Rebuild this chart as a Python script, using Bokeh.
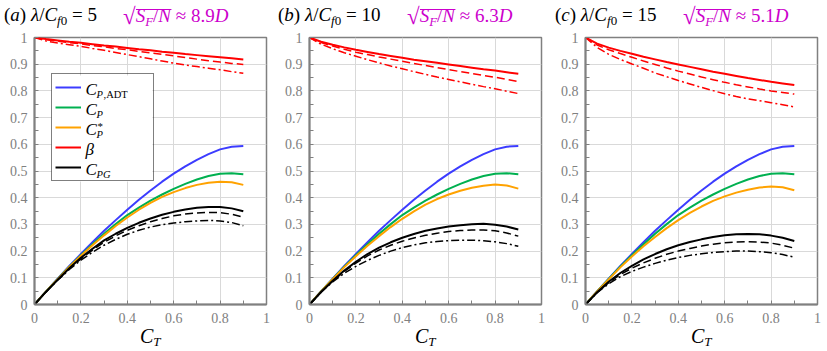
from bokeh.plotting import figure
from bokeh.layouts import row, column
from bokeh.models import Label, Legend, LegendItem, FixedTicker, Div, BoxAnnotation
from bokeh.embed import file_html
from bokeh.resources import INLINE

# ---------------- data ----------------
CT = [0.0, 0.05, 0.1, 0.15, 0.2, 0.25, 0.3, 0.35, 0.4, 0.45, 0.5,
      0.55, 0.6, 0.65, 0.7, 0.75, 0.8, 0.85, 0.9]

CP_ADT = [0, 0.049, 0.097, 0.144, 0.189, 0.233, 0.276, 0.316, 0.355, 0.392, 0.427,
          0.460, 0.490, 0.517, 0.542, 0.563, 0.581, 0.591, 0.594]
CP = [0, 0.049, 0.096, 0.142, 0.185, 0.226, 0.265, 0.301, 0.335, 0.363, 0.389,
      0.412, 0.433, 0.452, 0.468, 0.481, 0.490, 0.492, 0.488]

CPS_A = [0, 0.049, 0.095, 0.141, 0.183, 0.222, 0.259, 0.294, 0.326, 0.355, 0.381,
         0.403, 0.421, 0.436, 0.448, 0.456, 0.460, 0.458, 0.448]
CPS_B = [0, 0.049, 0.095, 0.140, 0.181, 0.220, 0.256, 0.290, 0.321, 0.349, 0.374,
         0.395, 0.412, 0.426, 0.437, 0.445, 0.449, 0.446, 0.434]
CPS_C = [0, 0.049, 0.094, 0.139, 0.180, 0.218, 0.253, 0.286, 0.316, 0.343, 0.367,
         0.388, 0.405, 0.419, 0.430, 0.438, 0.442, 0.439, 0.428]

BETA_A = [1, 0.994, 0.989, 0.984, 0.980, 0.975, 0.970, 0.966, 0.961, 0.956, 0.952,
          0.947, 0.943, 0.938, 0.934, 0.930, 0.926, 0.922, 0.918]
BETA_A_DASH = [1, 0.992, 0.986, 0.981, 0.976, 0.970, 0.965, 0.959, 0.954, 0.948, 0.942,
               0.937, 0.931, 0.925, 0.919, 0.913, 0.908, 0.903, 0.899]
BETA_A_DOT = [1, 0.987, 0.979, 0.973, 0.967, 0.959, 0.952, 0.944, 0.936, 0.928, 0.920,
              0.912, 0.904, 0.897, 0.891, 0.885, 0.879, 0.872, 0.866]
BETA_B = [1, 0.984, 0.973, 0.963, 0.954, 0.946, 0.938, 0.931, 0.924, 0.917, 0.911,
          0.905, 0.899, 0.893, 0.887, 0.881, 0.876, 0.870, 0.864]
BETA_B_DASH = [1, 0.981, 0.968, 0.956, 0.945, 0.936, 0.927, 0.919, 0.911, 0.903, 0.895,
               0.887, 0.880, 0.872, 0.865, 0.858, 0.851, 0.843, 0.835]
BETA_B_DOT = [1, 0.975, 0.958, 0.943, 0.930, 0.917, 0.905, 0.893, 0.883, 0.872, 0.862,
              0.852, 0.843, 0.834, 0.825, 0.816, 0.808, 0.799, 0.790]
BETA_C = [1, 0.977, 0.962, 0.950, 0.939, 0.928, 0.918, 0.908, 0.899, 0.890, 0.881,
          0.872, 0.864, 0.856, 0.848, 0.841, 0.834, 0.828, 0.822]
BETA_C_DASH = [1, 0.972, 0.954, 0.940, 0.926, 0.912, 0.899, 0.886, 0.874, 0.863, 0.852,
               0.842, 0.832, 0.823, 0.815, 0.807, 0.800, 0.794, 0.788]
BETA_C_DOT = [1, 0.963, 0.937, 0.918, 0.901, 0.885, 0.867, 0.853, 0.839, 0.826, 0.813,
              0.801, 0.789, 0.779, 0.770, 0.763, 0.756, 0.748, 0.740]

CPG_A = [0, 0.048, 0.093, 0.136, 0.175, 0.209, 0.240, 0.265, 0.287, 0.306, 0.322,
         0.336, 0.347, 0.356, 0.362, 0.365, 0.365, 0.360, 0.349]
CPG_A_DASH = [0, 0.048, 0.092, 0.134, 0.171, 0.204, 0.233, 0.257, 0.278, 0.295, 0.310,
              0.322, 0.332, 0.339, 0.343, 0.345, 0.344, 0.338, 0.327]
CPG_A_DOT = [0, 0.048, 0.091, 0.131, 0.166, 0.196, 0.222, 0.244, 0.263, 0.278, 0.290,
             0.299, 0.305, 0.310, 0.313, 0.315, 0.313, 0.307, 0.295]
CPG_B = [0, 0.047, 0.089, 0.127, 0.160, 0.189, 0.213, 0.233, 0.250, 0.264, 0.276,
         0.285, 0.292, 0.297, 0.301, 0.302, 0.299, 0.292, 0.281]
CPG_B_DASH = [0, 0.047, 0.088, 0.124, 0.155, 0.182, 0.204, 0.222, 0.237, 0.249, 0.259,
              0.267, 0.273, 0.277, 0.279, 0.279, 0.276, 0.268, 0.256]
CPG_B_DOT = [0, 0.046, 0.085, 0.117, 0.143, 0.165, 0.184, 0.200, 0.213, 0.223, 0.231,
             0.236, 0.239, 0.241, 0.241, 0.239, 0.235, 0.228, 0.218]
CPG_C = [0, 0.046, 0.085, 0.118, 0.145, 0.169, 0.189, 0.207, 0.222, 0.234, 0.244,
         0.253, 0.259, 0.263, 0.264, 0.263, 0.258, 0.250, 0.238]
CPG_C_DASH = [0, 0.045, 0.082, 0.112, 0.136, 0.156, 0.173, 0.188, 0.200, 0.210, 0.219,
              0.226, 0.231, 0.234, 0.235, 0.234, 0.230, 0.222, 0.211]
CPG_C_DOT = [0, 0.044, 0.078, 0.104, 0.124, 0.140, 0.154, 0.166, 0.176, 0.184, 0.190,
             0.195, 0.198, 0.200, 0.200, 0.198, 0.194, 0.187, 0.177]

PANEL_LETTERS = ["a", "b", "c"]
LAMBDA_RATIOS = ["5", "10", "15"]
SPACINGS = ["8.9", "6.3", "5.1"]

# legend entries: (main symbol, italic subscript, upright subscript, superscript)
LEGEND_ENTRIES = [("C", "P", ",ADT", ""), ("C", "P", "", ""), ("C", "P", "", "*"),
                  ("β", "", "", ""), ("C", "PG", "", "")]

X_TICKS = [0, 0.2, 0.4, 0.6, 0.8, 1]
X_TICK_LABELS = ["0", "0.2", "0.4", "0.6", "0.8", "1"]
X_MINOR = [0.1, 0.3, 0.5, 0.7, 0.9]
Y_TICKS = [0, 0.1, 0.2, 0.3, 0.4, 0.5, 0.6, 0.7, 0.8, 0.9, 1]
Y_TICK_LABELS = ["0", "0.1", "0.2", "0.3", "0.4", "0.5", "0.6", "0.7", "0.8", "0.9", "1"]
Y_MINOR = [0.05, 0.15, 0.25, 0.35, 0.45, 0.55, 0.65, 0.75, 0.85, 0.95]

# ---------------- style ----------------
BLUE = "#3c3cff"
GREEN = "#00b050"
ORANGE = "#ffa200"
RED = "#ff0000"
BLACK = "#000000"
MAGENTA = "#cc00cc"
AXIS_GRAY = "#808080"
TICK_TEXT = "#808080"
GRID = "#d9d9d9"
SERIF = "'Liberation Serif', 'DejaVu Serif', serif"
DASH = "8 4"
DASHDOT = "8 3 2 3"

FW, FH = 232, 267
BORDERS = [(34, 9), (34, 9), (35, 10)]      # (left, right) per panel
TITLE_X = [(4, 123), (278, 407), (555, 683)]  # black part, magenta part
CT_X = [140, 415, 691]

# legend geometry (px, from the frame's lower-left corner)
LEG_X, LEG_Y = 17, 123
LEG_PAD, LEG_ROW, LEG_GLYPH, LEG_STANDOFF, LEG_LABEL_W = 3, 20, 26, 5, 64
LEG_W = 2 * LEG_PAD + LEG_GLYPH + LEG_STANDOFF + LEG_LABEL_W
LEG_H = 2 * LEG_PAD + 5 * LEG_ROW


def put(p, text, dx, dy, size, style="normal"):
    p.add_layout(Label(x=0, y=0, x_offset=dx, y_offset=dy, text=text,
                       text_font=SERIF, text_font_size=f"{size}px",
                       text_font_style=style, text_color=BLACK,
                       text_align="left", text_baseline="alphabetic",
                       level="overlay"))


def panel(i, cps, betas, cpgs, legend):
    left, right = BORDERS[i]
    p = figure(frame_width=FW, frame_height=FH, x_range=(0, 1), y_range=(0, 1),
               output_backend="svg", toolbar_location=None,
               min_border_left=left, min_border_right=right,
               min_border_top=8, min_border_bottom=26)
    p.background_fill_color = "white"
    p.border_fill_color = "white"
    p.outline_line_color = AXIS_GRAY
    p.outline_line_width = 1.5

    xt = FixedTicker(ticks=X_TICKS, minor_ticks=X_MINOR)
    yt = FixedTicker(ticks=Y_TICKS, minor_ticks=Y_MINOR)
    p.xaxis.ticker = xt
    p.yaxis.ticker = yt
    p.xgrid.ticker = xt
    p.ygrid.ticker = yt
    p.xaxis.major_label_overrides = dict(zip(X_TICKS, X_TICK_LABELS))
    p.yaxis.major_label_overrides = dict(zip(Y_TICKS, Y_TICK_LABELS))
    for ax in (p.xaxis, p.yaxis):
        ax.axis_line_color = AXIS_GRAY
        ax.axis_line_width = 2
        ax.major_tick_in = 4
        ax.major_tick_out = 0
        ax.minor_tick_in = 4
        ax.minor_tick_out = 0
        ax.major_tick_line_color = AXIS_GRAY
        ax.minor_tick_line_color = AXIS_GRAY
        ax.major_label_text_font = SERIF
        ax.major_label_text_font_size = "14px"
        ax.major_label_text_color = TICK_TEXT
    p.xaxis.major_label_standoff = 8
    p.yaxis.major_label_standoff = 7
    for g in (p.xgrid, p.ygrid):
        g.grid_line_color = GRID
        g.grid_line_width = 1

    if legend:
        # white backing of the legend box, hiding the grid behind it
        p.add_layout(BoxAnnotation(left=LEG_X / FW, right=(LEG_X + LEG_W) / FW,
                                   bottom=LEG_Y / FH, top=(LEG_Y + LEG_H) / FH,
                                   fill_color="white", fill_alpha=1,
                                   line_color=None, level="underlay",
                                   editable=False))

    r_adt = p.line(CT, CP_ADT, line_color=BLUE, line_width=2)
    r_cp = p.line(CT, CP, line_color=GREEN, line_width=2)
    r_cps = p.line(CT, cps, line_color=ORANGE, line_width=2)
    r_beta = p.line(CT, betas[0], line_color=RED, line_width=2)
    p.line(CT, betas[1], line_color=RED, line_width=1.5, line_dash=DASH)
    p.line(CT, betas[2], line_color=RED, line_width=1.5, line_dash=DASHDOT)
    r_pg = p.line(CT, cpgs[0], line_color=BLACK, line_width=2)
    p.line(CT, cpgs[1], line_color=BLACK, line_width=1.5, line_dash=DASH)
    p.line(CT, cpgs[2], line_color=BLACK, line_width=1.5, line_dash=DASHDOT)

    if legend:
        rends = [r_adt, r_cp, r_cps, r_beta, r_pg]
        lg = Legend(items=[LegendItem(label=" ", renderers=[r]) for r in rends],
                    location=(LEG_X, LEG_Y), margin=0, padding=LEG_PAD, spacing=0,
                    glyph_height=LEG_ROW, glyph_width=LEG_GLYPH, label_height=LEG_ROW,
                    label_width=LEG_LABEL_W, label_standoff=LEG_STANDOFF,
                    border_line_color="black", border_line_width=1,
                    background_fill_alpha=0,
                    label_text_font=SERIF, label_text_font_size="17px")
        p.add_layout(lg)
        tx = LEG_X + LEG_PAD + LEG_GLYPH + LEG_STANDOFF
        for k, (main, sub_it, sub_up, sup) in enumerate(LEGEND_ENTRIES):
            center = LEG_Y + LEG_H - LEG_PAD - LEG_ROW * k - LEG_ROW / 2
            put(p, main, tx, center - 1, 17, "italic")
            if sub_it:
                put(p, sub_it, tx + 11, center - 6, 10.5, "italic")
            if sub_up:
                put(p, sub_up, tx + 18, center - 6, 10.5)
            if sup:
                put(p, sup, tx + 12, center + 3, 11)
    return p


def title_span(i):
    xb, xm = TITLE_X[i]
    sub = 'font-size:13px;position:relative;top:4px;'
    base = 'position:absolute;top:0;line-height:29px;white-space:nowrap;'
    black = (f'<span style="{base}left:{xb}px;color:{BLACK};">'
             f'(<i>{PANEL_LETTERS[i]}</i>) <i>λ</i>/<i>C</i>'
             f'<span style="{sub}"><i>f</i>0</span> = {LAMBDA_RATIOS[i]}</span>')
    mag = (f'<span style="{base}left:{xm}px;color:{MAGENTA};">'
           f'<span style="font-size:23px;position:relative;top:2px;">√</span>'
           f'<span style="display:inline-block;line-height:12px;'
           f'border-top:1.3px solid {MAGENTA};"><i>S</i>'
           f'<span style="{sub}"><i>F</i></span>/<i>N</i></span>'
           f' ≈ {SPACINGS[i]}<i>D</i></span>')
    return black + mag


def ct_span(i):
    return (f'<span style="position:absolute;top:0;left:{CT_X[i]}px;line-height:12px;'
            f'white-space:nowrap;font-size:20px;"><i>C</i>'
            f'<span style="font-size:13px;position:relative;top:3px;"><i>T</i></span></span>')


FONT_STYLE = {"font-family": SERIF, "font-size": "19px", "color": BLACK,
              "margin": "0", "padding": "0", "overflow": "visible"}

top = Div(text='<div style="position:relative;width:827px;height:29px;">'
               + "".join(title_span(i) for i in range(3)) + '</div>',
          width=827, height=29, margin=0, styles=FONT_STYLE)
bottom = Div(text='<div style="position:relative;width:827px;height:21px;">'
                  + "".join(ct_span(i) for i in range(3)) + '</div>',
             width=827, height=21, margin=0, styles=FONT_STYLE)

pa = panel(0, CPS_A, (BETA_A, BETA_A_DASH, BETA_A_DOT), (CPG_A, CPG_A_DASH, CPG_A_DOT), True)
pb = panel(1, CPS_B, (BETA_B, BETA_B_DASH, BETA_B_DOT), (CPG_B, CPG_B_DASH, CPG_B_DOT), False)
pc = panel(2, CPS_C, (BETA_C, BETA_C_DASH, BETA_C_DOT), (CPG_C, CPG_C_DASH, CPG_C_DOT), False)

layout = column(top, row(pa, pb, pc, spacing=0), bottom, spacing=0)
open("out.html", "w").write(file_html(layout, INLINE))
